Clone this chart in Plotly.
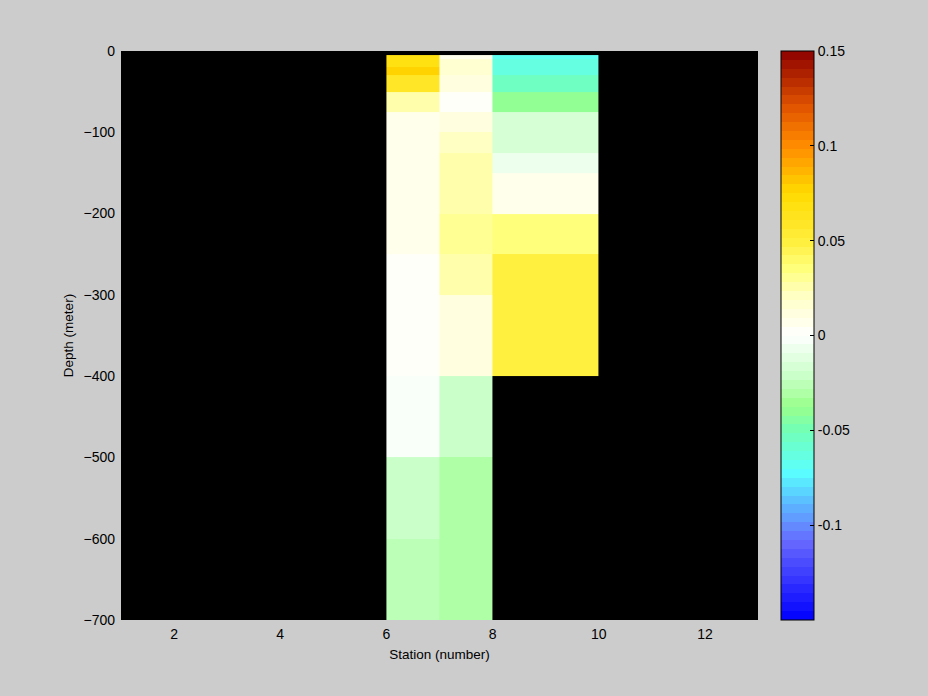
import numpy as np
import plotly.graph_objects as go

# ---- data ----
station_edges = [6, 7, 8, 10]
depth_edges = [-5, -10, -20, -30, -50, -75, -100, -125, -150, -200, -250, -300, -400, -500, -600, -700]
# values per depth cell (top to bottom), one list per station column
col_6_7 = [0.068, 0.066, 0.075, 0.058, 0.025, 0.008, 0.008, 0.008, 0.008, 0.007, 0.003, 0.003, -0.003, -0.020, -0.025]
col_7_8 = [0.006, 0.018, 0.015, 0.012, 0.003, 0.013, 0.020, 0.025, 0.025, 0.032, 0.025, 0.010, -0.020, -0.032, -0.032]
col_8_10 = [-0.066, -0.065, -0.062, -0.055, -0.038, -0.018, -0.018, -0.007, 0.007, 0.035, 0.050, 0.050, None, None, None]

cb_tickvals = [0.15, 0.1, 0.05, 0, -0.05, -0.1]
cb_ticktext = ["0.15", "0.1", "0.05", "0", "-0.05", "-0.1"]
x_tickvals = [2, 4, 6, 8, 10, 12]
y_tickvals = [0, -100, -200, -300, -400, -500, -600, -700]

# ---- colormap (stepped, 64 levels) ----
anchors = [
    (-0.150, (0, 0, 255)),
    (-0.130, (50, 50, 255)),
    (-0.110, (100, 100, 255)),
    (-0.100, (100, 140, 255)),
    (-0.085, (90, 200, 255)),
    (-0.072, (90, 255, 255)),
    (-0.060, (105, 255, 215)),
    (-0.050, (115, 255, 180)),
    (-0.037, (155, 255, 140)),
    (-0.020, (205, 255, 205)),
    (0.000, (255, 255, 255)),
    (0.020, (255, 255, 200)),
    (0.035, (255, 255, 125)),
    (0.050, (255, 238, 60)),
    (0.075, (255, 218, 0)),
    (0.100, (255, 140, 0)),
    (0.120, (225, 85, 0)),
    (0.150, (140, 0, 0)),
]
av = np.array([a[0] for a in anchors])
ac = np.array([a[1] for a in anchors], dtype=float)
zmin, zmax = -0.15, 0.15
nlev = 64
colorscale = []
for i in range(nlev):
    t0, t1 = i / nlev, (i + 1) / nlev
    v = zmin + (i + 0.5) / nlev * (zmax - zmin)
    rgb = [int(round(np.interp(v, av, ac[:, k]))) for k in range(3)]
    c = "rgb(%d,%d,%d)" % tuple(rgb)
    colorscale.append([t0, c])
    colorscale.append([t1, c])

z = np.array([col_6_7, col_7_8, col_8_10], dtype=float).T

FONT = "Liberation Sans"
FS = 14

fig = go.Figure(go.Heatmap(
    x=station_edges,
    y=depth_edges,
    z=z,
    zmin=zmin, zmax=zmax,
    colorscale=colorscale,
    hoverongaps=False,
    colorbar=dict(
        thickness=33, thicknessmode="pixels",
        len=1, lenmode="fraction", y=0.5, yanchor="middle",
        x=(781 - 121) / 637, xanchor="left", xpad=0, ypad=0,
        outlinecolor="black", outlinewidth=1,
        ticks="inside", ticklen=4, tickcolor="black",
        tickvals=cb_tickvals, ticktext=cb_ticktext,
        tickfont=dict(family=FONT, size=FS, color="black"),
    ),
))

fig.update_layout(
    width=928, height=696,
    margin=dict(l=121, r=170, t=51, b=76),
    paper_bgcolor="#cccccc",
    plot_bgcolor="black",
    font=dict(family=FONT, size=FS, color="black"),
    xaxis=dict(
        range=[1, 13], tickvals=x_tickvals, showgrid=False, zeroline=False,
        ticks="", ticklabelstandoff=4,
        title=dict(text="Station (number)", standoff=8, font=dict(family=FONT, size=13.5)),
        showline=False,
    ),
    yaxis=dict(
        range=[-700, 0], tickvals=y_tickvals, showgrid=False, zeroline=False,
        ticks="", ticklabelstandoff=5,
        title=dict(text="Depth (meter)", standoff=6, font=dict(family=FONT, size=13.5)),
        showline=False,
    ),
)

fig.write_html("out.html", config={"displayModeBar": False},
               post_script="document.body.style.margin='0';")
